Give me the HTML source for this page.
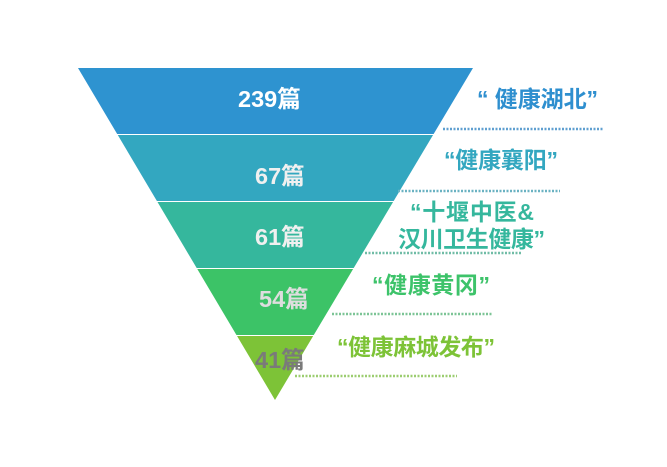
<!DOCTYPE html>
<html><head><meta charset="utf-8"><style>
html,body{margin:0;padding:0;background:#fff;}
svg text{font-family:"Liberation Sans","Noto Sans CJK SC",sans-serif;font-weight:bold;}
</style></head><body>
<svg width="667" height="462" viewBox="0 0 667 462" xmlns="http://www.w3.org/2000/svg">
<defs><clipPath id="t"><polygon points="78,68 473,68 275,400"/></clipPath></defs>
<g clip-path="url(#t)">
<rect x="0" y="60" width="667" height="74" fill="#2e93d0"/>
<rect x="0" y="135" width="667" height="66" fill="#33a7c0"/>
<rect x="0" y="202" width="667" height="66" fill="#35b79d"/>
<rect x="0" y="269" width="667" height="66" fill="#3cc367"/>
<rect x="0" y="336" width="667" height="70" fill="#7dc337"/>
</g>
<g stroke-width="2.5" stroke-dasharray="2,1.5">
<line x1="443" y1="129" x2="604" y2="129" stroke="#5f9fd0"/>
<line x1="398" y1="191" x2="560" y2="191" stroke="#6ab2c2"/>
<line x1="365" y1="253" x2="522" y2="253" stroke="#70bca6"/>
<line x1="332" y1="314" x2="493" y2="314" stroke="#7cc496"/>
<line x1="295" y1="376" x2="457" y2="376" stroke="#9ccd70"/>
</g>
<g font-size="23.5">
<text x="238" y="107" fill="#fff">239篇</text>
<text x="255" y="184" fill="#f0f0f0">67篇</text>
<text x="255" y="245" fill="#f0f0f0">61篇</text>
<text x="259" y="307" fill="#dedede">54篇</text>
<text x="255" y="368" fill="#7a7a7a">41篇</text>
</g>
<g font-size="23">
<text x="477" y="107" fill="#2e8fcf" textLength="121">“ 健康湖北”</text>
<text x="444" y="168" fill="#33a7c0" textLength="114">“健康襄阳”</text>
<text x="410" y="220" fill="#35b79d" textLength="124">“十堰中医&amp;</text>
<text x="398" y="247" fill="#35b79d" textLength="147">汉川卫生健康”</text>
<text x="372" y="293" fill="#3dc36a" textLength="118">“健康黄冈”</text>
<text x="337" y="355" fill="#7dc337" textLength="158">“健康麻城发布”</text>
</g>
</svg>
</body></html>
